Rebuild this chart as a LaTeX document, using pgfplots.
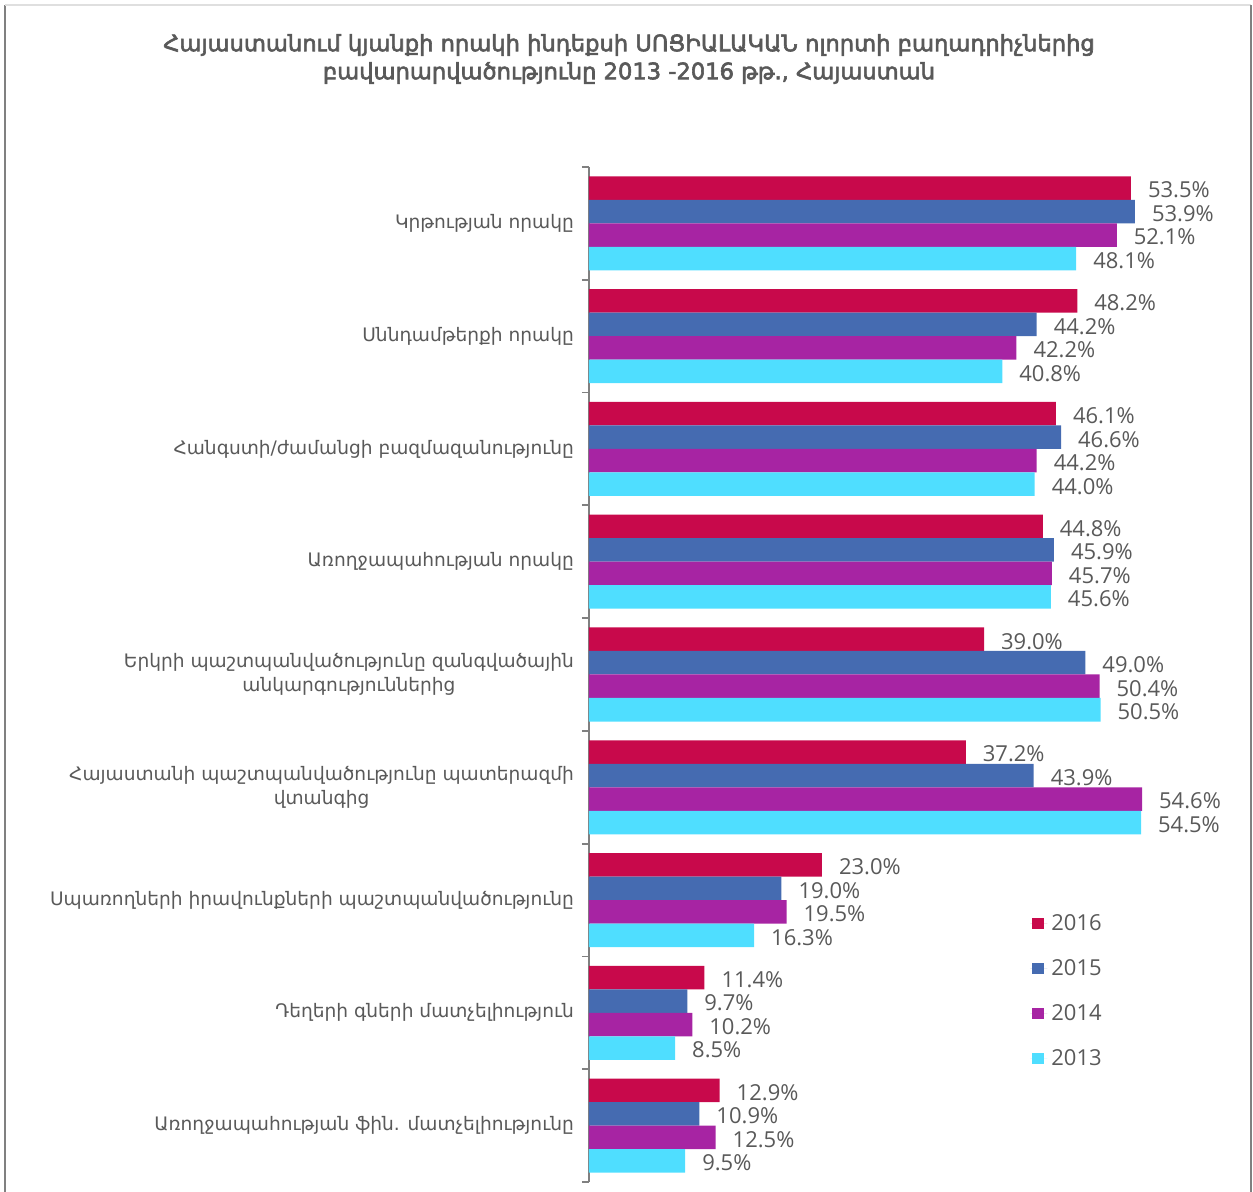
\documentclass[border=0pt]{standalone}
\usepackage{fontspec}
\setmainfont{DejaVu Sans}
\newfontfamily\numfont{Open Sans}
\newfontfamily\titlefont[FakeBold=2.6]{DejaVu Sans}
\usepackage{pgfplots}
\pgfplotsset{compat=1.18}
\definecolor{c16}{HTML}{C8094B}
\definecolor{c15}{HTML}{456BB1}
\definecolor{c14}{HTML}{A724A3}
\definecolor{c13}{HTML}{4FDEFF}
\definecolor{txt}{HTML}{595959}
\begin{document}
\begin{tikzpicture}
\useasboundingbox (0,0) rectangle (626.5pt,596pt);
\draw[line width=1.2pt, color=gray] (2.5pt,0) -- (2.5pt,593.5pt);
\draw[line width=0.8pt, color=gray!25] (2.5pt,593.5pt) -- (625.5pt,593.5pt);
\draw[line width=1.2pt, color=gray] (625.5pt,0) -- (625.5pt,593.5pt);
\node[align=center, font=\titlefont\fontsize{11.3}{14}\selectfont, text=txt] at (314.5pt,566.5pt)
 {Հայաստանում կյանքի որակի ինդեքսի ՍՈՑԻԱԼԱԿԱՆ ոլորտի բաղադրիչներից\\բավարարվածությունը 2013 -2016 թթ., Հայաստան};
\begin{axis}[
  at={(294.5pt,5pt)}, anchor=south west,
  scale only axis, width=303.9pt, height=507.5pt,
  xbar, bar width=11.75pt,
  xmin=0, xmax=60, ymin=-0.5, ymax=8.5, y dir=reverse,
  axis x line=none, axis y line*=left,
  ytick={0,...,8},
  yticklabels={
    Կրթության որակը,
    Սննդամթերքի որակը,
    Հանգստի/ժամանցի բազմազանությունը,
    Առողջապահության որակը,
    {Երկրի պաշտպանվածությունը զանգվածային\\անկարգություններից},
    {Հայաստանի պաշտպանվածությունը պատերազմի\\վտանգից},
    Սպառողների իրավունքների պաշտպանվածությունը,
    Դեղերի գների մատչելիություն,
    Առողջապահության ֆին. մատչելիությունը},
  major tick length=0pt,
  minor ytick={-0.5,0.5,...,8.5},
  minor tick length=3.5pt, tick align=outside,
  y axis line style={draw=gray, line width=0.9pt},
  every tick/.style={gray, line width=0.9pt},
  yticklabel style={align=center, font=\fontsize{9.3}{12}\selectfont, text=txt, xshift=-4pt},
  /pgf/number format/assume math mode=true,
  nodes near coords={\pgfmathprintnumber[fixed,fixed zerofill,precision=1,assume math mode=true]{\pgfplotspointmeta}\%},
  point meta=x,
  every node near coord/.append style={font=\numfont\fontsize{11}{13}\selectfont, text=txt, anchor=west, xshift=5pt, yshift=-1pt},
  legend image code/.code={\path (0pt,0pt) -- (8.5pt,0pt); \fill[#1] (1pt,-2.8pt) rectangle (6.6pt,2.8pt);},
  legend style={at={(0.7256,0.268)}, anchor=north west, draw=none, fill=none,
    font=\numfont\fontsize{11}{13}\selectfont, text=txt, row sep=9pt, inner sep=0pt},
  legend cell align=left,
  clip=false,
]
\addplot[fill=c16, draw=none, bar shift=17.625pt] coordinates {(53.5,0) (48.2,1) (46.1,2) (44.8,3) (39.0,4) (37.2,5) (23.0,6) (11.4,7) (12.9,8)};
\addplot[fill=c15, draw=none, bar shift=5.875pt] coordinates {(53.9,0) (44.2,1) (46.6,2) (45.9,3) (49.0,4) (43.9,5) (19.0,6) (9.7,7) (10.9,8)};
\addplot[fill=c14, draw=none, bar shift=-5.875pt] coordinates {(52.1,0) (42.2,1) (44.2,2) (45.7,3) (50.4,4) (54.6,5) (19.5,6) (10.2,7) (12.5,8)};
\addplot[fill=c13, draw=none, bar shift=-17.625pt] coordinates {(48.1,0) (40.8,1) (44.0,2) (45.6,3) (50.5,4) (54.5,5) (16.3,6) (8.5,7) (9.5,8)};
\legend{2016,2015,2014,2013}
\end{axis}
\end{tikzpicture}
\end{document}
